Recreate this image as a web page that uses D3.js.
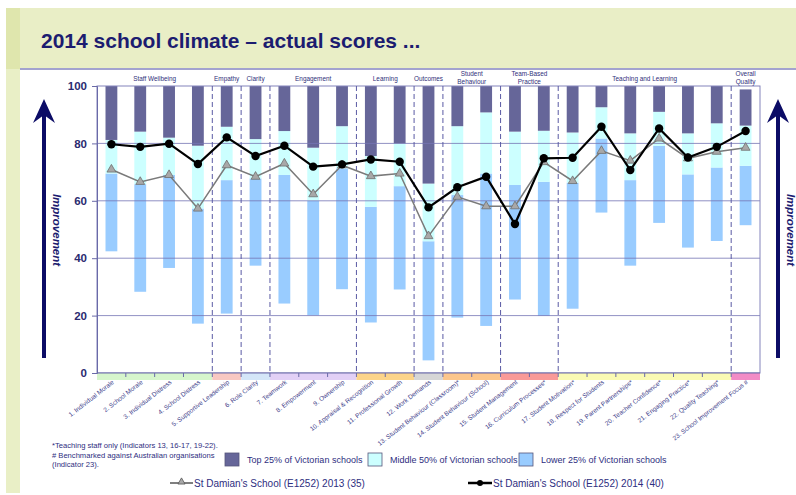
<!DOCTYPE html>
<meta charset="utf-8">
<style>
body { margin: 0; background: #fff; }
svg { display: block; font-family: "Liberation Sans", Arial, sans-serif; }
.grid line { stroke: #7474b4; stroke-width: 1; }
.divider { stroke: #5a5aa4; stroke-width: 1; stroke-dasharray: 5,3; }
.axis-y text { font-size: 11.5px; font-weight: bold; fill: #2b2b70; }
.axis-y path, .axis-y line { stroke: #6a6aa8; }
.xlab { font-size: 6.4px; fill: #40408a; }
.glab { font-size: 6.4px; fill: #30307a; }
.leg { font-size: 9px; fill: #2e2e80; }
.note { font-size: 7.6px; fill: #2e2e80; }
</style>
<body>
<script src="https://d3js.org/d3.v7.min.js"></script>
<script>

// indicators
var labels = ["1. Individual Morale", "2. School Morale", "3. Individual Distress", "4. School Distress",
  "5. Supportive Leadership", "6. Role Clarity", "7. Teamwork", "8. Empowerment", "9. Ownership",
  "10. Appraisal & Recognition", "11. Professional Growth", "12. Work Demands",
  "13. Student Behaviour (Classroom)*", "14. Student Behaviour (School)", "15. Student Management",
  "16. Curriculum Processes*", "17. Student Motivation*", "18. Respect for Students",
  "19. Parent Partnerships*", "20. Teacher Confidence*", "21. Engaging Practice*",
  "22. Quality Teaching*", "23. School Improvement Focus #"];

// Victorian school benchmarks (percentile boundaries)
var top100 = [100, 100, 100, 100, 100, 100, 100, 100, 100, 100, 100, 100, 100, 100, 100, 100, 100, 100, 100, 100, 100, 100, 98.8];
var p75 = [81.2, 84.1, 82, 79.2, 85.8, 81.5, 84.3, 78.5, 86, 75.6, 80, 66, 86, 90.8, 84.1, 84.4, 83.8, 92.6, 83.5, 91, 83.5, 87, 86.2];
var p25 = [69.5, 65.8, 69, 57.3, 67.2, 67.8, 69, 60, 71.3, 57.9, 65.1, 45.9, 62, 69.5, 65.5, 66.6, 66.3, 81.7, 67.2, 79.1, 69.2, 71.6, 72.2];
var low = [42.4, 28.3, 36.6, 17.2, 20.7, 37.4, 24.2, 20.1, 29.2, 17.6, 29.1, 4.4, 19.3, 16.4, 25.6, 19.9, 22.4, 55.9, 37.4, 52.3, 43.7, 46, 51.5];

// school scores
var s2013 = [70.9, 66.6, 69, 57.3, 72.4, 68.4, 73, 62.3, 72.4, 68.6, 69.5, 47.7, 61.4, 58.1, 58.1, 73.5, 66.9, 77.4, 74, 81.7, 74.8, 77.1, 78.5];
var s2014 = [79.7, 78.8, 79.9, 72.8, 82.1, 75.6, 79.2, 71.9, 72.7, 74.4, 73.6, 57.7, 64.7, 68.4, 51.9, 74.8, 75, 85.8, 70.7, 85.2, 75.1, 78.8, 84.3];

// domains
var groups = [["Staff Wellbeing"], ["Empathy"], ["Clarity"], ["Engagement"], ["Learning"], ["Outcomes"],
  ["Student", "Behaviour"], ["Team-Based", "Practice"], ["Teaching and Learning"], ["Overall", "Quality"]];
var groupSizes = [4, 1, 1, 3, 2, 1, 2, 2, 6, 1];
var groupColors = ["#d6f5cc", "#f8c8c2", "#d4e6f8", "#e2d0f6", "#fcd48a", "#d6d6d6", "#fcc68c", "#f99a98", "#fafab4", "#f28cc6"];

var yTicks = [0, 20, 40, 60, 80, 100];

var W = 796, H = 495;
var plot = {left: 97, right: 760, top: 86, bottom: 373};

var svg = d3.select("body").append("svg")
    .attr("width", W)
    .attr("height", H);

// slide frame
svg.append("rect").attr("x", 0).attr("y", 0).attr("width", W).attr("height", H).attr("fill", "#fff");
svg.append("rect").attr("x", 6).attr("y", 8).attr("width", 14).attr("height", 485).attr("fill", "#e9efc6");
svg.append("rect").attr("x", 6).attr("y", 8).attr("width", 14).attr("height", 61).attr("fill", "#dfe6ad");
svg.append("rect").attr("x", 20).attr("y", 8).attr("width", W - 20).attr("height", 61).attr("fill", "#e9eec6");
svg.append("rect").attr("x", 20).attr("y", 68).attr("width", W - 20).attr("height", 2).attr("fill", "#a3a3cf");

svg.append("text")
    .attr("x", 41).attr("y", 48)
    .attr("font-size", "21px").attr("font-weight", "bold").attr("fill", "#1c1c70")
    .text("2014 school climate \u2013 actual scores ...");

// scales
var x = d3.scaleBand().domain(labels).range([plot.left, plot.right]);
var y = d3.scaleLinear().domain([0, 100]).range([plot.bottom, plot.top]);
var bw = x.bandwidth() * 0.41;
var cx = function(i) { return x(labels[i]) + x.bandwidth() / 2; };

// stacked benchmark bars
var segs = [
  {lo: low, hi: p25, color: "#99ccff"},
  {lo: p25, hi: p75, color: "#ccffff"},
  {lo: p75, hi: top100, color: "#666699"}
];
segs.forEach(function(s) {
  svg.append("g").selectAll("rect")
    .data(labels)
    .join("rect")
      .attr("x", function(d, i) { return cx(i) - bw / 2; })
      .attr("width", bw)
      .attr("y", function(d, i) { return y(s.hi[i]); })
      .attr("height", function(d, i) { return y(s.lo[i]) - y(s.hi[i]); })
      .attr("fill", s.color);
});

// gridlines
svg.append("g").attr("class", "grid")
  .selectAll("line")
  .data(yTicks.slice(1, 5))
  .join("line")
    .attr("x1", plot.left).attr("x2", plot.right)
    .attr("y1", function(d) { return y(d); })
    .attr("y2", function(d) { return y(d); })
    .attr("stroke-opacity", 0.8);

// plot border
svg.append("rect")
    .attr("x", plot.left).attr("y", plot.top)
    .attr("width", plot.right - plot.left).attr("height", plot.bottom - plot.top)
    .attr("fill", "none").attr("stroke", "#8484bc").attr("stroke-width", 1);

// group boundaries + strip + labels
var start = 0;
groups.forEach(function(g, gi) {
  var n = groupSizes[gi];
  var x0 = x(labels[start]);
  var x1 = x(labels[start + n - 1]) + x.bandwidth();
  svg.append("rect")
      .attr("x", x0).attr("y", plot.bottom)
      .attr("width", x1 - x0).attr("height", 7)
      .attr("fill", groupColors[gi]);
  if (start + n < labels.length) {
    svg.append("line").attr("class", "divider")
        .attr("x1", x1).attr("x2", x1)
        .attr("y1", plot.top).attr("y2", plot.bottom);
  }
  var t = svg.append("text").attr("class", "glab")
      .attr("text-anchor", "middle")
      .attr("x", (x0 + x1) / 2);
  if (g.length === 1) {
    t.attr("y", 81).text(g[0]);
  } else {
    t.attr("y", 76).text(g[0]);
    svg.append("text").attr("class", "glab")
        .attr("text-anchor", "middle")
        .attr("x", (x0 + x1) / 2).attr("y", 84).text(g[1]);
  }
  start += n;
});

// x axis line + ticks at band edges
svg.append("line")
    .attr("x1", plot.left).attr("x2", plot.right)
    .attr("y1", plot.bottom).attr("y2", plot.bottom)
    .attr("stroke", "#6a6aa8");
svg.append("g").selectAll("line")
  .data(labels.slice(1))
  .join("line")
    .attr("x1", function(d) { return x(d); }).attr("x2", function(d) { return x(d); })
    .attr("y1", plot.bottom).attr("y2", plot.bottom + 4)
    .attr("stroke", "#6a6aa8");

svg.append("g").selectAll("text")
  .data(labels)
  .join("text")
    .attr("class", "xlab")
    .attr("text-anchor", "end")
    .attr("transform", function(d, i) {
      return "translate(" + (cx(i) + 3) + "," + (plot.bottom + 10) + ") rotate(-38)";
    })
    .text(function(d) { return d; });

// y axis
svg.append("g")
    .attr("class", "axis-y")
    .attr("transform", "translate(" + plot.left + ",0)")
    .call(d3.axisLeft(y).tickValues(yTicks).tickSize(5).tickPadding(5))
    .call(function(g) { g.select(".domain").attr("stroke", "#6a6aa8"); });

// school lines
var line = d3.line()
    .x(function(d, i) { return cx(i); })
    .y(function(d) { return y(d); });

svg.append("path").datum(s2013)
    .attr("fill", "none").attr("stroke", "#7a7a7a").attr("stroke-width", 1.5)
    .attr("d", line);
svg.append("g").selectAll("path")
  .data(s2013)
  .join("path")
    .attr("transform", function(d, i) { return "translate(" + cx(i) + "," + y(d) + ")"; })
    .attr("d", d3.symbol().type(d3.symbolTriangle).size(34))
    .attr("fill", "#a8a8a8").attr("stroke", "#6e6e6e").attr("stroke-width", 0.8);

svg.append("path").datum(s2014)
    .attr("fill", "none").attr("stroke", "#000").attr("stroke-width", 2.2)
    .attr("d", line);
svg.append("g").selectAll("circle")
  .data(s2014)
  .join("circle")
    .attr("cx", function(d, i) { return cx(i); })
    .attr("cy", function(d) { return y(d); })
    .attr("r", 4.2)
    .attr("fill", "#000");

// improvement arrows
function arrow(ax, tx) {
  svg.append("line")
      .attr("x1", ax).attr("x2", ax).attr("y1", 358).attr("y2", 112)
      .attr("stroke", "#0c0c66").attr("stroke-width", 4);
  svg.append("path")
      .attr("d", "M" + ax + ",99 L" + (ax + 11) + ",123 L" + ax + ",115 L" + (ax - 11) + ",123 Z")
      .attr("fill", "#0c0c66");
  svg.append("text")
      .attr("transform", "translate(" + tx + ",230) rotate(90)")
      .attr("text-anchor", "middle")
      .attr("font-size", "11.5px").attr("font-style", "italic").attr("font-weight", "bold")
      .attr("fill", "#1c1c70")
      .text("Improvement");
}
arrow(44, 53);
arrow(778, 787);

// footnotes
svg.append("text").attr("class", "note").attr("x", 52).attr("y", 448)
    .text("*Teaching staff only (Indicators 13, 16-17, 19-22).");
svg.append("text").attr("class", "note").attr("x", 52).attr("y", 458)
    .text("# Benchmarked against Australian organisations");
svg.append("text").attr("class", "note").attr("x", 52).attr("y", 467)
    .text("(Indicator 23).");

// legend
var legBoxes = [
  {x: 225, color: "#666699", text: "Top 25% of Victorian schools"},
  {x: 368, color: "#ccffff", text: "Middle 50% of Victorian schools"},
  {x: 519, color: "#99ccff", text: "Lower 25% of Victorian schools"}
];
legBoxes.forEach(function(b) {
  svg.append("rect").attr("x", b.x).attr("y", 453).attr("width", 14).attr("height", 13)
      .attr("fill", b.color).attr("stroke", "#55557a").attr("stroke-width", 0.8);
  svg.append("text").attr("class", "leg").attr("x", b.x + 22).attr("y", 463).text(b.text);
});

svg.append("line").attr("x1", 170).attr("x2", 193).attr("y1", 483).attr("y2", 483)
    .attr("stroke", "#555").attr("stroke-width", 1.5);
svg.append("path").attr("transform", "translate(181.5,482)")
    .attr("d", d3.symbol().type(d3.symbolTriangle).size(22))
    .attr("fill", "#a8a8a8").attr("stroke", "#555").attr("stroke-width", 0.8);
svg.append("text").attr("x", 194).attr("y", 487).attr("font-size", "10px").attr("fill", "#2e2e80")
    .text("St Damian's School (E1252) 2013 (35)");

svg.append("line").attr("x1", 468).attr("x2", 492).attr("y1", 483).attr("y2", 483)
    .attr("stroke", "#000").attr("stroke-width", 2.5);
svg.append("circle").attr("cx", 480).attr("cy", 483).attr("r", 3).attr("fill", "#000");
svg.append("text").attr("x", 493).attr("y", 487).attr("font-size", "10px").attr("fill", "#2e2e80")
    .text("St Damian's School (E1252) 2014 (40)");

</script>
</body>
